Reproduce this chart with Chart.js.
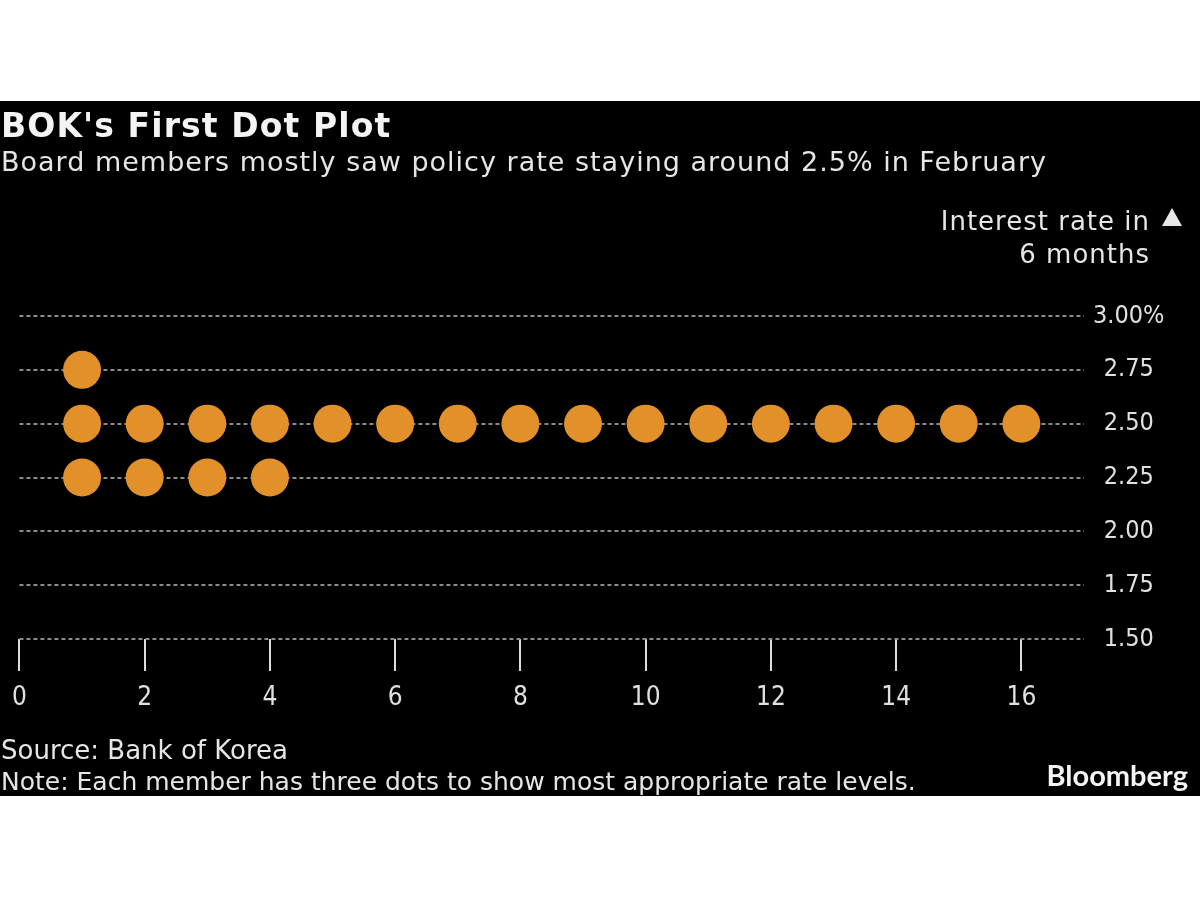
<!DOCTYPE html>
<html>
<head>
<meta charset="utf-8">
<script src="https://cdn.jsdelivr.net/npm/chart.js@4"></script>
<style>
  body { margin: 0; background: #fff; width: 1200px; height: 900px; position: relative; overflow: hidden; }
  #card { position: absolute; left: 0; top: 101px; width: 1200px; height: 695px; background: #000; }
  #card canvas { position: absolute; left: 0; top: 0; }
  .txt { position: absolute; color: #e6e6e6; font-family: "DejaVu Sans", sans-serif; line-height: 1; white-space: nowrap; }
  #title { left: 1px; top: 109px; font-size: 33px; font-weight: bold; color: #f4f4f4; letter-spacing: 1.1px; }
  #subtitle { left: 1px; top: 148px; font-size: 27px; letter-spacing: 1px; }
  #axisTitle { right: 50px; top: 205px; font-size: 26px; text-align: right; line-height: 33px; letter-spacing: 1px; }
  #tri { position: absolute; left: 1162px; top: 208px; width: 0; height: 0;
         border-left: 10.5px solid transparent; border-right: 10.5px solid transparent; border-bottom: 18px solid #e6e6e6; }
  #source { left: 1px; top: 737px; font-size: 26px; }
  #note { left: 1px; top: 769px; font-size: 25px; }
  #logo { right: 12px; top: 760px; font-size: 29px; font-weight: bold; font-family: Lato, "Open Sans", sans-serif; color: #f4f4f4; }
</style>
</head>
<body>
<div id="card"><canvas id="dotChart" width="1200" height="695"></canvas></div>
<div class="txt" id="title">BOK's First Dot Plot</div>
<div class="txt" id="subtitle">Board members mostly saw policy rate staying around 2.5% in February</div>
<div class="txt" id="axisTitle">Interest rate in<br>6 months</div>
<div id="tri"></div>
<div class="txt" id="source">Source: Bank of Korea</div>
<div class="txt" id="note">Note: Each member has three dots to show most appropriate rate levels.</div>
<div class="txt" id="logo">Bloomberg</div>
<script>
// member positions (x) for each rate level
const dots275 = [1];
const dots250 = [1, 2, 3, 4, 5, 6, 7, 8, 9, 10, 11, 12, 13, 14, 15, 16];
const dots225 = [1, 2, 3, 4];

const xTicks = [0, 2, 4, 6, 8, 10, 12, 14, 16];
const yTicks = [1.50, 1.75, 2.00, 2.25, 2.50, 2.75, 3.00];
const yTickLabels = ['1.50', '1.75', '2.00', '2.25', '2.50', '2.75', '3.00%'];

const dotColor = '#e2902a';
const textColor = '#e0e0e0';
const font = "'DejaVu Sans Condensed', 'DejaVu Sans', sans-serif";

const toPoints = (xs, rate) => xs.map(x => ({ x: x, y: rate }));

const ctx = document.getElementById('dotChart').getContext('2d');

const dotChart = new Chart(ctx, {
  type: 'scatter',
  data: {
    datasets: [
      { label: '2.75', data: toPoints(dots275, 2.75) },
      { label: '2.50', data: toPoints(dots250, 2.50) },
      { label: '2.25', data: toPoints(dots225, 2.25) }
    ].map(ds => Object.assign(ds, {
      backgroundColor: dotColor,
      borderWidth: 0,
      pointRadius: 19,
      pointHoverRadius: 19
    }))
  },
  options: {
    responsive: false,
    animation: false,
    devicePixelRatio: 1,
    events: [],
    layout: { padding: { left: 17, top: 215, right: 0, bottom: 0 } },
    plugins: {
      legend: { display: false },
      tooltip: { enabled: false }
    },
    scales: {
      x: {
        type: 'linear',
        min: 0,
        max: 17,
        afterBuildTicks: scale => { scale.ticks = xTicks.map(v => ({ value: v })); },
        afterFit: scale => { scale.height = 157; },
        border: { display: false },
        grid: {
          drawOnChartArea: false,
          drawTicks: true,
          tickLength: 32,
          color: '#dcdcdc',
          lineWidth: 2
        },
        ticks: {
          padding: 12,
          color: textColor,
          font: { family: font, size: 26 },
          maxRotation: 0,
          autoSkip: false
        }
      },
      y: {
        position: 'right',
        min: 1.5,
        max: 3.0,
        afterBuildTicks: scale => { scale.ticks = yTicks.map(v => ({ value: v })); },
        afterFit: scale => { scale.width = 116; },
        border: { display: false, dash: [4, 3] },
        grid: {
          drawTicks: false,
          color: '#8c8c8c',
          lineWidth: 2
        },
        ticks: {
          padding: 9,
          crossAlign: 'center',
          color: textColor,
          font: { family: font, size: 25 },
          callback: (value, index) => yTickLabels[index]
        }
      }
    }
  }
});
</script>
</body>
</html>
